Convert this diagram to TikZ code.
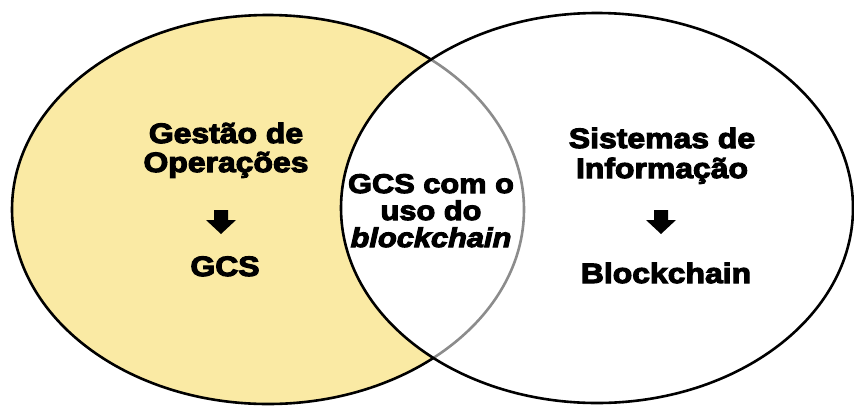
\documentclass[tikz,border=0pt]{standalone}
\usepackage{fontspec}
\setmainfont{Liberation Sans}
\newfontfamily\vfont{Liberation Sans Bold}[FakeStretch=1.14,FakeBold=4]
\newfontfamily\vfontit{Liberation Sans Bold Italic}[FakeStretch=1.14,FakeBold=4]
\definecolor{venyellow}{RGB}{250,234,164}
\definecolor{vengray}{RGB}{140,140,140}
\tikzset{
  lbl/.style={anchor=base, inner sep=0pt, font=\vfont\fontsize{28}{30}\selectfont},
  ring/.style={line width=2.6pt},
  downarrow/.pic={\fill (-7,0) -- (7,0) -- (7,10) -- (15,10) -- (0,24) -- (-15,10) -- (-7,10) -- cycle;}
}
\begin{document}
\begin{tikzpicture}[x=1pt,y=-1pt]
\useasboundingbox (0,0) rectangle (854,405);
% left ellipse
\fill[venyellow] (268,209.5) ellipse [x radius=256, y radius=194.5];
\draw[ring] (268,209.5) ellipse [x radius=256, y radius=194.5];
% right ellipse white fill
\fill[white] (597,208) ellipse [x radius=256, y radius=195];
\begin{scope}
  \clip (597,208) ellipse [x radius=256, y radius=195];
  \draw[ring, vengray] (268,209.5) ellipse [x radius=256, y radius=194.5];
\end{scope}
\draw[ring] (597,208) ellipse [x radius=256, y radius=195];
% left texts
\node[lbl] (l1) at (226,143) {Gestão de};
\node[lbl] (l2) at (226,172) {Operações};
\pic (la) at (221,210) {downarrow};
\node[lbl] (l3) at (225,276) {GCS};
% middle
\node[lbl, font=\vfont\fontsize{27}{28}\selectfont] (m1) at (431,193) {GCS com o};
\node[lbl, font=\vfont\fontsize{27}{28}\selectfont] (m2) at (431,220) {uso do};
\node[lbl, font=\vfontit\fontsize{27}{28}\selectfont] (m3) at (431,247) {blockchain};
% right
\node[lbl] (r1) at (662,148) {Sistemas de};
\node[lbl] (r2) at (662,178) {Informação};
\pic (ra) at (661,210) {downarrow};
\node[lbl] (r3) at (666,283) {Blockchain};
\end{tikzpicture}
\end{document}
